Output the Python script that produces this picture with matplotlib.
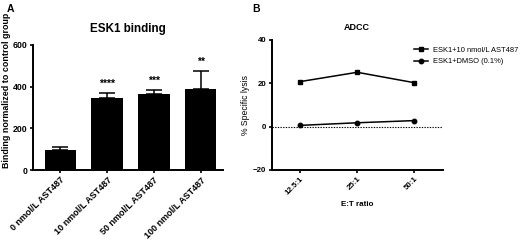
import numpy as np
import matplotlib
matplotlib.use("Agg")
import matplotlib.pyplot as plt

plt.rcParams.update({
    "font.family": ["Liberation Sans", "DejaVu Sans"],
    "axes.linewidth": 1.4,
    "xtick.major.width": 1.2,
    "ytick.major.width": 1.2,
    "xtick.major.size": 2.5,
    "ytick.major.size": 2.5,
})

# panel A: ESK1 binding
groups = ["0 nmol/L AST487", "10 nmol/L AST487", "50 nmol/L AST487", "100 nmol/L AST487"]
binding = [97.6, 347, 363, 387]
binding_err = [12, 24, 21, 90]
stars = ["", "****", "***", "**"]
a_yticks = [0, 200, 400, 600]

# panel B: ADCC
ratios = ["12.5:1", "25:1", "50:1"]
lysis_ast = [20.8, 25.1, 20.3]
lysis_dmso = [0.6, 1.8, 2.8]
b_yticks = [-20, 0, 20, 40]

W, H = 520, 246
fig = plt.figure(figsize=(W / 100, H / 100), dpi=100)


def px_axes(x0, x1, y0, y1):
    return fig.add_axes([x0 / W, 1 - y1 / H, (x1 - x0) / W, (y1 - y0) / H])


ax1 = px_axes(32.7, 222.7, 45, 170)
ax2 = px_axes(271.7, 442.7, 40, 170)

x = np.arange(len(groups))
ax1.bar(x, binding, width=0.67, color="black", zorder=2)
ax1.errorbar(x, binding, yerr=[np.zeros(len(binding)), binding_err], fmt="none",
             ecolor="black", elinewidth=1.1, capsize=6, capthick=1.1, zorder=1)
for xi, v, e, s in zip(x, binding, binding_err, stars):
    if s:
        ax1.text(xi, v + e + 42, s, ha="center", va="center", fontsize=7.5, fontweight="bold")

ax1.set_xlim(-0.59, 3.47)
ax1.set_ylim(0, 600)
ax1.set_yticks(a_yticks)
ax1.set_xticks(x)
ax1.set_xticklabels(groups, rotation=45, ha="right", rotation_mode="anchor",
                    fontsize=6.5, fontweight="bold")
for lab in ax1.get_yticklabels():
    lab.set_fontsize(6.3)
    lab.set_fontweight("bold")
ax1.tick_params(axis="both", pad=1.5)
ax1.spines["top"].set_visible(False)
ax1.spines["right"].set_visible(False)
ax1.set_title("ESK1 binding", fontsize=8.4, fontweight="bold", pad=9.5)

fig.text(7 / W, 1 - 90 / H, "Binding normalized to control group", rotation=90,
         ha="center", va="center", fontsize=6.4, fontweight="bold")

xb = np.arange(len(ratios))
ax2.axhline(0, color="black", lw=0.8, ls=(0, (1.2, 1.2)), zorder=1)
ax2.plot(xb, lysis_ast, color="black", lw=1.1, marker="s", ms=3.2,
         label="ESK1+10 nmol/L AST487", zorder=3)
ax2.plot(xb, lysis_dmso, color="black", lw=1.1, marker="o", ms=3.2,
         label="ESK1+DMSO (0.1%)", zorder=3)
ax2.set_xlim(-0.5, 2.5)
ax2.set_ylim(-20, 40)
ax2.set_yticks(b_yticks)
ax2.set_xticks(xb)
ax2.set_xticklabels(ratios, rotation=45, ha="right", rotation_mode="anchor",
                    fontsize=5.7, fontweight="bold")
for lab in ax2.get_yticklabels():
    lab.set_fontsize(5.7)
    lab.set_fontweight("bold")
ax2.tick_params(axis="both", pad=1.5)
ax2.spines["top"].set_visible(False)
ax2.spines["right"].set_visible(False)
ax2.set_title("ADCC", fontsize=6.5, fontweight="bold", pad=7)
ax2.set_ylabel("% Specific lysis", fontsize=6.2, labelpad=2)
ax2.set_xlabel("E:T ratio", fontsize=5.8, fontweight="bold", labelpad=3)

ax2.legend(loc="upper left", bbox_to_anchor=(414 / W, 1 - 46.5 / H),
           bbox_transform=fig.transFigure, frameon=False, fontsize=5.4,
           handlelength=1.8, handletextpad=0.7, labelspacing=0.55,
           borderpad=0, borderaxespad=0)

fig.text(7 / W, 1 - 8.5 / H, "A", ha="left", va="center", fontsize=7.5, fontweight="bold")
fig.text(252 / W, 1 - 8.5 / H, "B", ha="left", va="center", fontsize=7.5, fontweight="bold")

fig.savefig("out.png", dpi=100)
